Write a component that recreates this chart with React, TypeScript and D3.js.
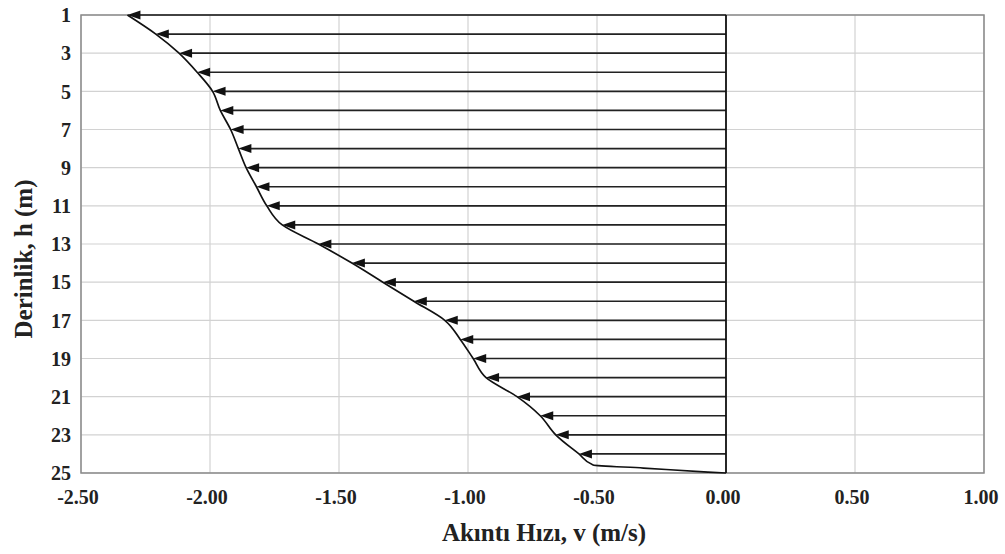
import React from "react";
import * as d3 from "d3";

// depth (m) of each arrow and the measured current speed (m/s) at its tip
const depths = [1, 2, 3, 4, 5, 6, 7, 8, 9, 10, 11, 12, 13, 14, 15, 16, 17, 18, 19, 20, 21, 22, 23, 24];
const speeds = [-2.32, -2.21, -2.12, -2.05, -1.99, -1.96, -1.92, -1.89, -1.86, -1.82, -1.78, -1.72, -1.58, -1.45, -1.33, -1.21, -1.09, -1.03, -0.98, -0.93, -0.81, -0.72, -0.66, -0.57];

// extra profile points near the bed, where the curve flattens out to zero
const bedDepths = [24.58, 24.74, 24.95, 25];
const bedSpeeds = [-0.515, -0.32, -0.07, 0];

const xTicks = [-2.5, -2.0, -1.5, -1.0, -0.5, 0.0, 0.5, 1.0];
const yTicks = [1, 3, 5, 7, 9, 11, 13, 15, 17, 19, 21, 23, 25];

const W = 1005;
const H = 554;
const font = "'Liberation Serif', 'Times New Roman', serif";

export default function App() {
  const x = d3.scaleLinear().domain([-2.5, 1]).range([81, 984]);
  const y = d3.scaleLinear().domain([1, 25]).range([15, 473]);

  const profile: [number, number][] = [
    ...depths.map((d, i) => [speeds[i], d] as [number, number]),
    ...bedDepths.map((d, i) => [bedSpeeds[i], d] as [number, number]),
  ];
  const line = d3
    .line<[number, number]>()
    .x((p) => x(p[0]))
    .y((p) => y(p[1]))
    .curve(d3.curveMonotoneY);

  const headLen = 13;
  const headHalf = 4.5;

  return (
    <svg width={W} height={H} style={{ position: "absolute", left: 0, top: 0, background: "#fff" }}>
      {/* vertical grid */}
      {xTicks.map((t) => (
        <line key={"gx" + t} x1={x(t)} x2={x(t)} y1={y(1)} y2={y(25)} stroke="#d2d2d2" strokeWidth={1.2} />
      ))}
      {/* horizontal grid */}
      {yTicks.map((t) => (
        <line key={"gy" + t} x1={x(-2.5)} x2={x(1)} y1={y(t)} y2={y(t)} stroke="#d2d2d2" strokeWidth={1.2} />
      ))}
      {/* frame */}
      <rect x={x(-2.5)} y={y(1)} width={x(1) - x(-2.5)} height={y(25) - y(1)} fill="none" stroke="#8a8a8a" strokeWidth={1.5} />

      {/* arrows */}
      {depths.map((d, i) => {
        const tip = x(speeds[i]);
        const yy = y(d);
        return (
          <g key={"a" + d}>
            <line x1={x(0)} x2={tip + headLen - 2} y1={yy} y2={yy} stroke="#222" strokeWidth={1.7} />
            <path
              d={`M${tip},${yy} L${tip + headLen},${yy - headHalf} L${tip + headLen},${yy + headHalf} Z`}
              fill="#111"
            />
          </g>
        );
      })}
      {/* stem at zero */}
      <line x1={x(0)} x2={x(0)} y1={y(1)} y2={y(25)} stroke="#111" strokeWidth={1.8} />
      {/* velocity profile */}
      <path d={line(profile) ?? ""} fill="none" stroke="#111" strokeWidth={1.7} />

      {/* y tick labels */}
      {yTicks.map((t) => (
        <text key={"ly" + t} x={71} y={y(t)} dy="0.36em" textAnchor="end" fontFamily={font} fontWeight="bold" fontSize={20} fill="#222">
          {t}
        </text>
      ))}
      {/* x tick labels */}
      {xTicks.map((t) => (
        <text key={"lx" + t} x={x(t) - 3} y={504} textAnchor="middle" fontFamily={font} fontWeight="bold" fontSize={20} fill="#222">
          {t.toFixed(2)}
        </text>
      ))}
      <text x={544} y={541} textAnchor="middle" fontFamily={font} fontWeight="bold" fontSize={25} fill="#222">
        Akıntı Hızı, v (m/s)
      </text>
      <text transform={`translate(32,259) rotate(-90)`} textAnchor="middle" fontFamily={font} fontWeight="bold" fontSize={25} fill="#222">
        Derinlik, h (m)
      </text>
    </svg>
  );
}
